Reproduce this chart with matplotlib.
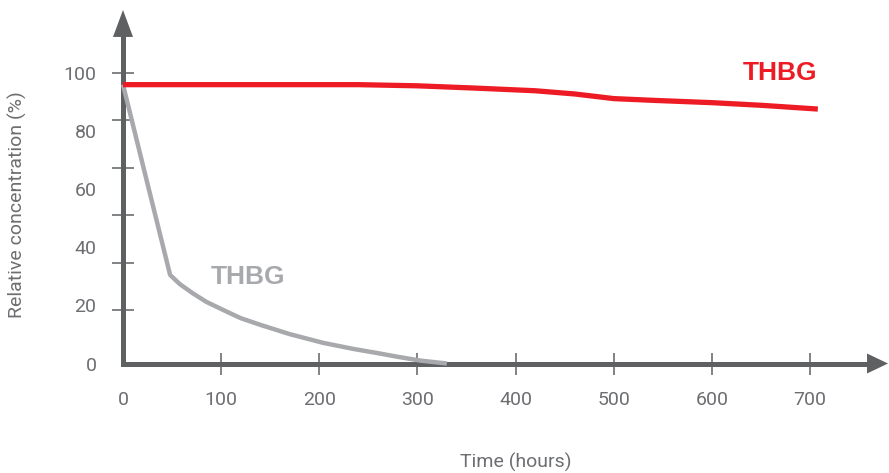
import matplotlib.pyplot as plt
from matplotlib.ticker import FixedLocator

# Data
red_hours = [0, 100, 200, 240, 300, 360, 420, 460, 500, 540, 600, 650, 708]
red_conc = [96, 96, 96, 96, 95.6, 94.8, 93.9, 92.8, 91.2, 90.6, 89.8, 88.9, 87.6]

grey_hours = [0, 24, 48, 58, 71, 85, 106, 120, 140, 170, 204, 235, 259, 280, 303, 330]
grey_conc = [96, 63.2, 30.5, 27.3, 24.2, 21.2, 17.8, 15.6, 13.3, 10.1, 7.1, 5.0, 3.6, 2.3, 1.0, 0]

x_ticks = [0, 100, 200, 300, 400, 500, 600, 700]
x_marks = [100, 200, 300, 400, 500, 600, 700]
y_ticks = [0, 20, 40, 60, 80, 100]
y_marks = [18.4, 34.6, 51.1, 67.3, 83.8, 100]

AXIS = '#5f6062'
LABEL = '#6d6e71'
RED = '#ed1c24'
GREY = '#a7a9ac'

plt.rcParams['font.family'] = ['Roboto', 'DejaVu Sans']

fig = plt.figure(figsize=(8.89, 4.73), dpi=100)
ax = fig.add_axes([123 / 889, 1 - 363.5 / 473, 765 / 889, 353.5 / 473])
ax.set_xlim(0, 779.5)
ax.set_ylim(0, 121.7)
ax.patch.set_visible(False)

# axes lines
for side in ['top', 'right']:
    ax.spines[side].set_visible(False)
for side in ['left', 'bottom']:
    ax.spines[side].set_color(AXIS)
    ax.spines[side].set_linewidth(3.6)
    ax.spines[side].set_capstyle('projecting')
    ax.spines[side].set_zorder(1)
ax.spines['left'].set_bounds(0, 116)
ax.spines['bottom'].set_bounds(0, 765)

# arrow heads
ax.annotate('', xy=(0, 1), xytext=(0, 0), xycoords='axes fraction',
            arrowprops=dict(arrowstyle='-|>,head_length=1.94,head_width=0.72',
                            lw=0, fc=AXIS, ec=AXIS, shrinkA=0, shrinkB=0),
            zorder=1)
ax.annotate('', xy=(1, 0), xytext=(0, 0), xycoords='axes fraction',
            arrowprops=dict(arrowstyle='-|>,head_length=1.51,head_width=0.72',
                            lw=0, fc=AXIS, ec=AXIS, shrinkA=0, shrinkB=0),
            zorder=1)

# ticks: labels on major ticks, marks on minor ticks
ax.xaxis.remove_overlapping_locs = False
ax.yaxis.remove_overlapping_locs = False
ax.set_xticks(x_ticks)
ax.set_xticklabels([str(v) for v in x_ticks])
ax.set_yticks(y_ticks)
ax.set_yticklabels([str(v) for v in y_ticks])
ax.xaxis.set_minor_locator(FixedLocator(x_marks))
ax.yaxis.set_minor_locator(FixedLocator(y_marks))
ax.tick_params(which='major', length=0, labelsize=14, labelcolor=LABEL)
ax.tick_params(axis='x', which='major', pad=20)
ax.tick_params(axis='y', which='major', pad=19)
ax.tick_params(which='minor', direction='inout', length=15.8, width=1.1,
               color=AXIS)

# series
ax.plot(red_hours, red_conc, color=RED, lw=3.8, zorder=3, clip_on=False,
        solid_capstyle='butt')
ax.plot(grey_hours, grey_conc, color=GREY, lw=3.2, zorder=2, clip_on=False,
        solid_capstyle='butt', solid_joinstyle='round')

ax.text(669, 100, 'THBG', color=RED, fontsize=19, fontweight='bold',
        family=['Liberation Sans', 'DejaVu Sans'], ha='center', va='center')
ax.text(127.4, 29.8, 'THBG', color=GREY, fontsize=19, fontweight='bold',
        family=['Liberation Sans', 'DejaVu Sans'], ha='center', va='center')

fig.text(17 / 889, 1 - 205 / 473, 'Relative concentration (%)', rotation=90,
         ha='center', va='center', fontsize=14, color=LABEL)
fig.text(516 / 889, 1 - 462 / 473, 'Time (hours)', ha='center', va='center',
         fontsize=14, color=LABEL)

fig.savefig('out.png', dpi=100)
